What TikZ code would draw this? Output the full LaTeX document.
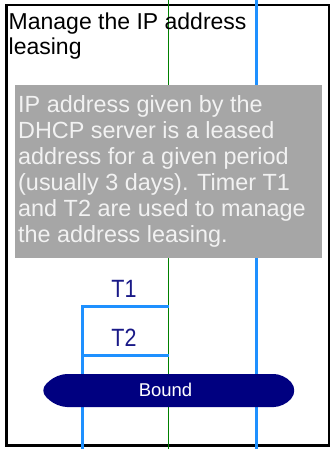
\documentclass[tikz,border=0pt]{standalone}
\usepackage{fontspec}
\usepackage{graphicx}
\setmainfont{Liberation Sans}
\definecolor{lifeblue}{RGB}{30,144,255}
\definecolor{lifegreen}{RGB}{0,128,0}
\definecolor{notegray}{RGB}{166,166,166}
\definecolor{notetext}{RGB}{242,242,242}
\definecolor{labelblue}{RGB}{25,25,135}
\definecolor{statenavy}{RGB}{0,0,128}
\begin{document}
\begin{tikzpicture}[x=1pt,y=-1pt,
  frame/.style={draw=black,line width=2.8pt},
  bluelife/.style={draw=lifeblue,line width=3pt},
  greenlife/.style={draw=lifegreen,line width=1pt},
  timer/.style={draw=lifeblue,line width=3pt},
  notebox/.style={fill=notegray},
  titletext/.style={inner sep=0pt,anchor=north west,align=left,font=\fontsize{23}{25}\selectfont,text=black},
  notetxt/.style={inner sep=0pt,anchor=north west,align=left,font=\fontsize{23.4}{26}\selectfont,text=notetext},
  timerlabel/.style={inner sep=0pt,anchor=base,font=\fontsize{25}{27}\selectfont,text=labelblue},
  statebox/.style={fill=statenavy,rounded corners=10pt},
  statetext/.style={inner sep=0pt,anchor=base,font=\fontsize{18.5}{20}\selectfont,text=white}]
\useasboundingbox (0,0) rectangle (331,449);
% frame
\draw[frame] (6.5,5) rectangle (329,445.5);
% lifelines
\coordinate (gtop) at (168.5,0);
\coordinate (gbot) at (168.5,449);
\coordinate (btop) at (256.5,0);
\coordinate (bbot) at (256.5,449);
\coordinate (ltop) at (82.5,306.5);
\coordinate (lbot) at (82.5,449);
\coordinate (t1end) at (168.5,306.5);
\coordinate (t2start) at (82.5,355.5);
\coordinate (t2end) at (168.5,355.5);
\draw[greenlife] (gtop) -- (gbot);
\draw[bluelife] (btop) -- (bbot);
\draw[bluelife] (t1end) -- (ltop) -- (lbot);
\draw[timer] (t2start) -- (t2end);
% title
\node[titletext] (title) at (8.5,13) {Manage the IP address\\leasing};
% note
\fill[notebox] (15,85.5) rectangle (322,258);
\node[notetxt] (note) at (18,95.5) {IP address given by the\\DHCP server is a leased\\address for a given period\\(usually 3 days). Timer T1\\and T2 are used to manage\\the address leasing.};
% timer labels
\node[timerlabel] (t1) at (124,297) {\scalebox{0.86}[1]{T1}};
\node[timerlabel] (t2) at (124,346) {\scalebox{0.86}[1]{T2}};
% state
\fill[statebox] (57,374) -- (284,374) -- (298,390.5) -- (284,407) -- (57,407) -- (39,390.5) -- cycle;
\node[statetext] (bound) at (165.5,396.7) {Bound};
\end{tikzpicture}
\end{document}
